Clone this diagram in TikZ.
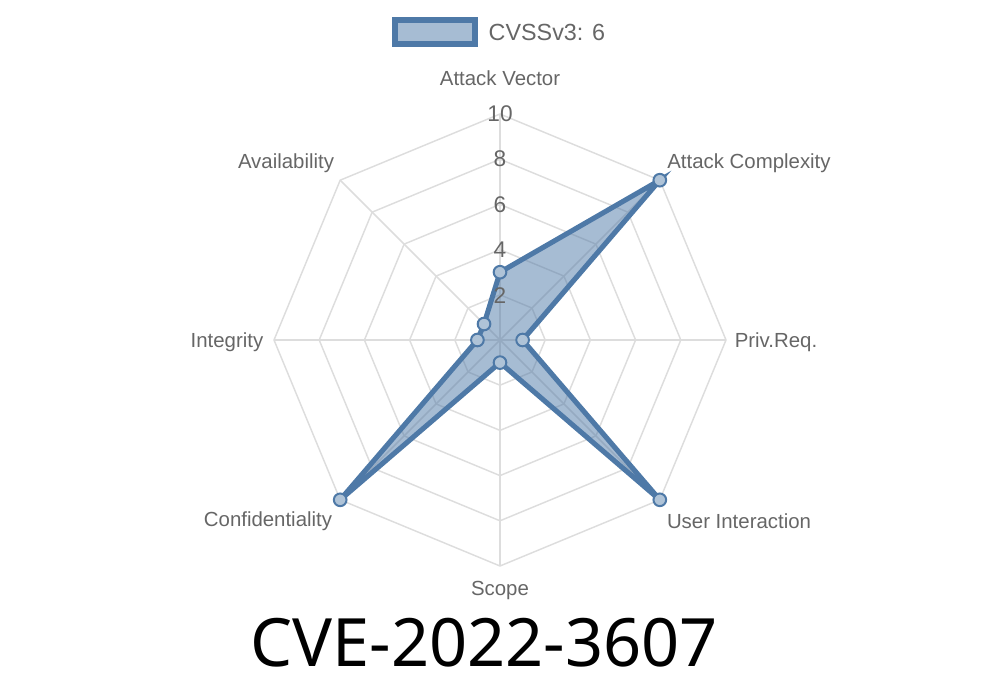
\documentclass[tikz,border=0pt]{standalone}
\usepackage{fontspec}
\setmainfont{Liberation Sans}
\newfontfamily\titlefont{Noto Sans}
\definecolor{cvline}{HTML}{4E79A7}
\definecolor{gridgray}{HTML}{DDDDDD}
\definecolor{labelgray}{HTML}{666666}
\begin{document}
\begin{tikzpicture}[x=0.75pt,y=-0.75pt]
    \tikzset{
    gridline/.style={draw=gridgray, line width=1.1pt},
    axis/.style={text=labelgray, font=\fontsize{15.3}{18}\selectfont, yshift=-1.5pt},
    ticklbl/.style={text=labelgray, font=\fontsize{17}{20}\selectfont, yshift=-0.8pt},
    area/.style={draw=cvline, line width=3.8pt, fill=cvline, fill opacity=0.5, line join=miter},
    pt/.style={circle, fill=cvline!45, draw=cvline, line width=1.5pt, minimum size=9.5pt, inner sep=0pt},
    }
    \useasboundingbox (0,0) rectangle (1000,700);
    % grid
    \begin{scope}[shift={(500,340)}]
    \foreach \r in {2,4,6,8,10}
        \draw[gridline] (-90:\r*22.6) \foreach \a in {-45,0,...,225} {-- (\a:\r*22.6)} -- cycle;
    \foreach \a in {-90,-45,...,225}
        \draw[gridline] (0,0) -- (\a:226);
    % data
    \coordinate (av) at (-90:3*22.6);
    \coordinate (ac) at (-45:10*22.6);
    \coordinate (pr) at (0:1*22.6);
    \coordinate (ui) at (45:10*22.6);
    \coordinate (sc) at (90:1*22.6);
    \coordinate (cf) at (135:10*22.6);
    \coordinate (in) at (180:1*22.6);
    \coordinate (avl) at (225:1*22.6);
    \draw[area] (av) -- (ac) -- (pr) -- (ui) -- (sc) -- (cf) -- (in) -- (avl) -- cycle;
    \foreach \p in {av,ac,pr,ui,sc,cf,in,avl}
        \node[pt] at (\p) {};
    \end{scope}
    % scale
    \node[ticklbl] (t10) at (500,113) {10};
    \node[ticklbl] (t8) at (500,158) {8};
    \node[ticklbl] (t6) at (500,204) {6};
    \node[ticklbl] (t4) at (500,249) {4};
    \node[ticklbl] (t2) at (500,295) {2};
    % axis labels
    \node[axis] (lav) at (500,76) {Attack Vector};
    \node[axis] (lac) at (749,161) {Attack Complexity};
    \node[axis] (lpr) at (776,340) {Priv.Req.};
    \node[axis] (lui) at (739,519) {User Interaction};
    \node[axis] (lsc) at (500,588) {Scope};
    \node[axis] (lcf) at (268,519) {Confidentiality};
    \node[axis] (lin) at (227,340) {Integrity};
    \node[axis] (lavl) at (286,161) {Availability};
    % legend
    \node[draw=cvline, line width=4.5pt, fill=cvline!50, minimum width=60pt, minimum height=18pt, inner sep=0pt] (key) at (434.7,31.7) {};
    \node[text=labelgray, font=\fontsize{17.5}{20}\selectfont, anchor=west] (keytxt) at (484,32) {CVSSv3: 6};
    % title
    \node[font=\titlefont\fontsize{50}{56}\selectfont] (title) at (484,643) {CVE-2022-3607};
\end{tikzpicture}
\end{document}
